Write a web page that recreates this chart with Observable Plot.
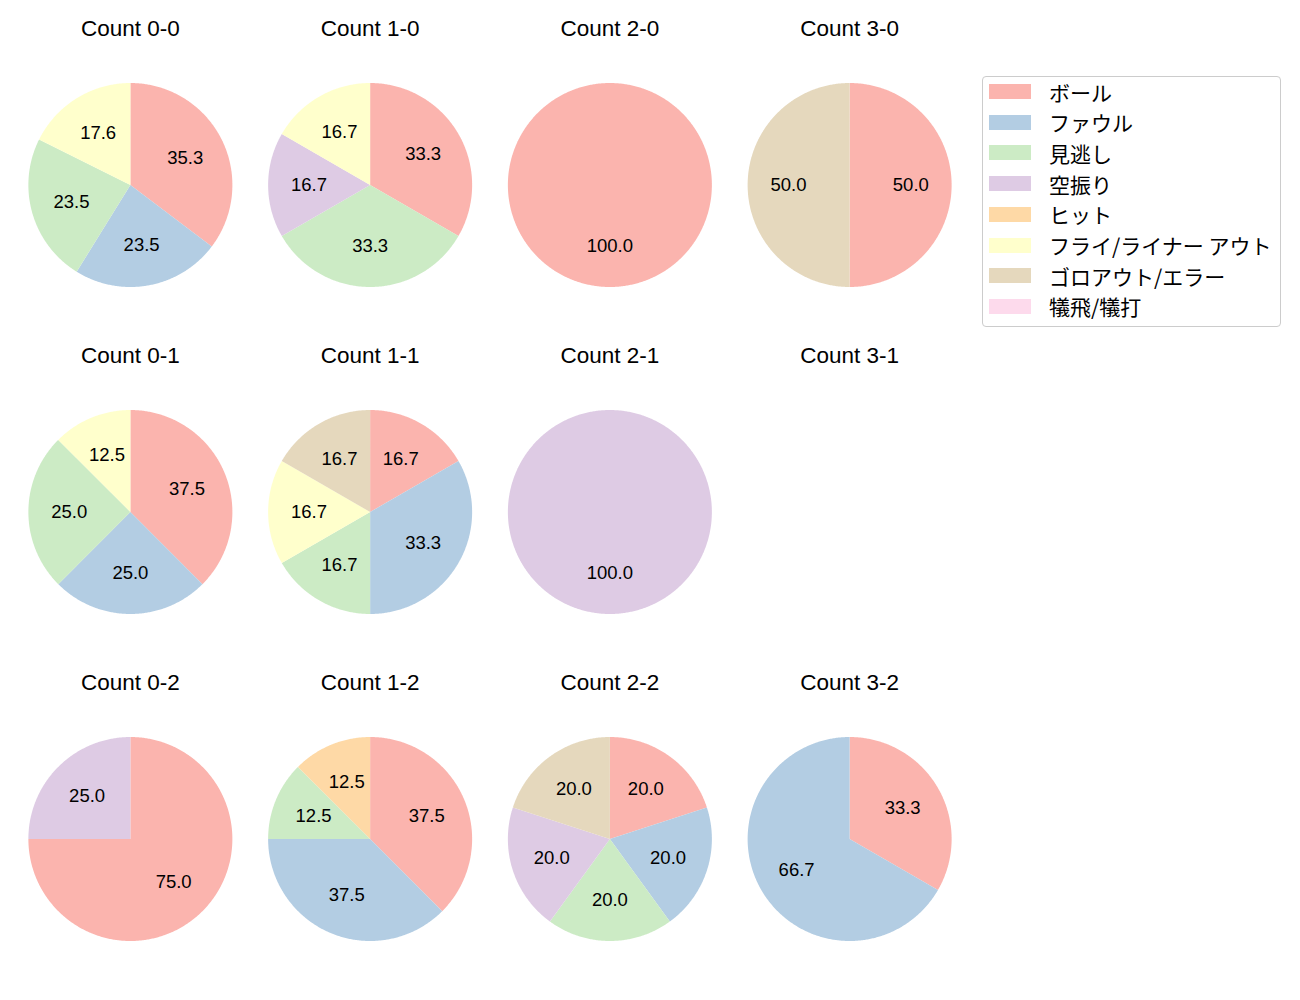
<!DOCTYPE html>
<html><head><meta charset="utf-8">
<script src="https://cdn.jsdelivr.net/npm/d3@7"></script>
<script src="https://cdn.jsdelivr.net/npm/@observablehq/plot@0.6"></script>
<style>
html,body{margin:0;padding:0;background:#fff;}
body{width:1300px;height:1000px;overflow:hidden;position:relative;font-family:"Noto Sans CJK JP","Noto Sans",sans-serif;}
#chart{position:absolute;left:0;top:0;}
#legend{position:absolute;left:982px;top:76px;width:299px;height:251px;box-sizing:border-box;border:1px solid #cccccc;border-radius:4px;background:#fff;}
.row{position:absolute;left:6px;height:20px;display:flex;align-items:center;}
.sw{width:42px;height:15px;margin-right:18px;}
.lb{font-size:21px;color:#000;white-space:pre;line-height:20px;font-family:"Noto Sans CJK JP",sans-serif;}
</style>
</head><body>
<div id="chart"></div>
<div id="legend"></div>
<script>
// ---- data ----
const categories = ["ボール","ファウル","見逃し","空振り","ヒット","フライ/ライナー アウト","ゴロアウト/エラー","犠飛/犠打"];
const palette = ["#fbb4ae","#b3cde3","#ccebc5","#decbe4","#fed9a6","#ffffcc","#e5d8bd","#fddaec"];
const countLabels = ["0-0","1-0","2-0","3-0","0-1","1-1","2-1","3-1","0-2","1-2","2-2","3-2"];
const balls   = [0,1,2,3,0,1,2,3,0,1,2,3];
const strikes = [0,0,0,0,1,1,1,1,2,2,2,2];
// pitch outcome counts per count, in category order
const pitches = [
  [6,4,4,0,0,3,0,0], // 0-0
  [2,0,2,1,0,1,0,0], // 1-0
  [1,0,0,0,0,0,0,0], // 2-0
  [1,0,0,0,0,0,1,0], // 3-0
  [3,2,2,0,0,1,0,0], // 0-1
  [1,2,1,0,0,1,1,0], // 1-1
  [0,0,0,1,0,0,0,0], // 2-1
  [0,0,0,0,0,0,0,0], // 3-1
  [3,0,0,1,0,0,0,0], // 0-2
  [3,3,1,0,1,0,0,0], // 1-2
  [1,1,1,1,0,0,1,0], // 2-2
  [1,2,0,0,0,0,0,0]  // 3-2
];

// ---- build pie geometry from data ----
const slices = [], labels = [], titles = [];
countLabels.forEach((c, i) => {
  const b = balls[i], s = strikes[i];
  titles.push({b, s, text: "Count " + c});
  const vals = pitches[i];
  const total = d3.sum(vals);
  if (!total) return;
  const arcs = d3.pie().sort(null).value(d => d)(vals);
  arcs.forEach((a, j) => {
    if (a.value === 0) return;
    const key = c + "_" + j;
    const span = a.endAngle - a.startAngle;
    const n = Math.max(2, Math.ceil(span / 0.01));
    if (span < 2 * Math.PI - 1e-9) slices.push({b, s, key, cat: categories[j], x: 0, y: 0});
    for (let k = 0; k <= n; k++) {
      const t = a.startAngle + span * k / n;
      slices.push({b, s, key, cat: categories[j], x: Math.sin(t), y: Math.cos(t)});
    }
    const m = (a.startAngle + a.endAngle) / 2;
    labels.push({b, s, x: 0.6 * Math.sin(m), y: 0.6 * Math.cos(m), text: (a.value / total * 100).toFixed(1)});
  });
});

// ---- layout ----
const W = 969, H = 1002, mL = 10, mT = 21;
const R = 102;
const bw = (W - mL) / 4, bh = (H - mT) / 3;
const font = '"Liberation Sans","Noto Sans CJK JP",sans-serif';

const chart = Plot.plot({
  width: W, height: H,
  marginLeft: mL, marginRight: 0, marginTop: mT, marginBottom: 0,
  fx: {domain: [0,1,2,3], axis: null, padding: 0, round: false},
  fy: {domain: [0,1,2], axis: null, padding: 0, round: false},
  x: {domain: [-bw / 2 / R, bw / 2 / R], axis: null},
  y: {domain: [-bh / 2 / R, bh / 2 / R], axis: null},
  color: {domain: categories, range: palette},
  style: {fontFamily: font, background: "white", color: "black"},
  marks: [
    Plot.line(slices, {x: "x", y: "y", z: "key", fill: "cat", stroke: "none", curve: "linear-closed", fx: "b", fy: "s"}),
    Plot.text(labels, {x: "x", y: "y", text: "text", fx: "b", fy: "s", fontSize: 18.5, fill: "black"}),
    Plot.text(titles, {frameAnchor: "top", lineAnchor: "middle", dy: 7, text: "text", fx: "b", fy: "s", fontSize: 22.5, fill: "black"})
  ]
});
document.getElementById("chart").appendChild(chart);

// ---- legend ----
const legend = document.getElementById("legend");
categories.forEach((c, i) => {
  const row = document.createElement("div");
  row.className = "row";
  row.style.top = (4.5 + i * 30.7) + "px";
  const sw = document.createElement("div");
  sw.className = "sw";
  sw.style.background = palette[i];
  const lb = document.createElement("span");
  lb.className = "lb";
  lb.textContent = c;
  row.appendChild(sw); row.appendChild(lb);
  legend.appendChild(row);
});
</script>
</body></html>
